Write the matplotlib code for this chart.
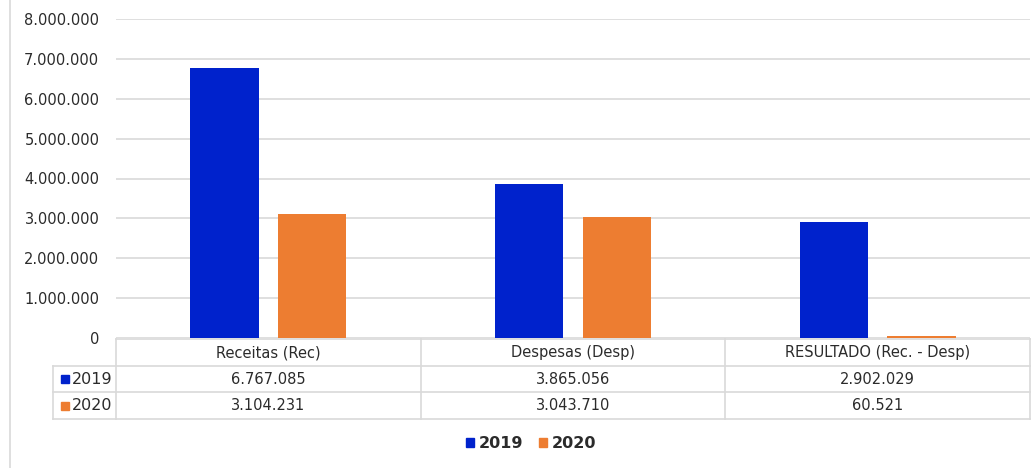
import matplotlib
matplotlib.use("Agg")
import matplotlib.pyplot as plt
import matplotlib.transforms as mtransforms
from matplotlib.lines import Line2D
from matplotlib.patches import Patch, Rectangle
import numpy as np

categories = ["Receitas (Rec)", "Despesas (Desp)", "RESULTADO (Rec. - Desp)"]
series_names = ["2019", "2020"]
values_2019 = [6767085, 3865056, 2902029]
values_2020 = [3104231, 3043710, 60521]
yticks = [0, 1000000, 2000000, 3000000, 4000000, 5000000, 6000000, 7000000, 8000000]

colors = ["#0022CC", "#ED7D31"]
text_color = "#2B2B2B"
grid_color = "#D9D9D9"

W, H = 1035, 468
fig = plt.figure(figsize=(W / 100, H / 100), dpi=100)
plt.rcParams['font.family'] = ['DejaVu Sans']

def fy(y):
    return 1 - y / H

ax_left, ax_right, ax_top, ax_bottom = 116, 1030, 19, 338
ax = fig.add_axes([ax_left / W, fy(ax_bottom), (ax_right - ax_left) / W, (ax_bottom - ax_top) / H])

def fmt(v):
    return f"{int(v):,}".replace(",", ".")

x = np.arange(len(categories))
bw = 0.224
off = 0.144
ax.bar(x - off, values_2019, bw, color=colors[0], zorder=3)
ax.bar(x + off, values_2020, bw, color=colors[1], zorder=3)
ax.set_xlim(-0.5, len(categories) - 0.5)
ax.set_ylim(0, 8000000)
ax.set_yticks(yticks)
ax.set_yticklabels([fmt(v) for v in yticks], fontsize=10.5, color=text_color)
ax.tick_params(axis='y', length=0, pad=12)
ax.set_xticks([])
for s in ax.spines.values():
    s.set_visible(False)
ax.yaxis.grid(True, color=grid_color, linewidth=1.2, zorder=0)
ax.set_axisbelow(True)

# data table
trans = mtransforms.blended_transform_factory(ax.transData, fig.transFigure)
lab_left = 53
row_y = [339, 366, 392, 419]
xl, xr = -0.5, len(categories) - 0.5
lw = 1.2
def hline(y, x0_data, x0_fig=None):
    if x0_fig is not None:
        x0 = ax.transData.inverted().transform(fig.transFigure.transform((x0_fig / W, 0)))[0]
    else:
        x0 = x0_data
    fig.add_artist(Line2D([x0, xr], [fy(y), fy(y)], transform=trans, color=grid_color, lw=lw))

hline(row_y[0], xl)
for y in row_y[1:]:
    hline(y, None, lab_left)
for b in np.arange(len(categories) + 1) - 0.5:
    fig.add_artist(Line2D([b, b], [fy(row_y[0]), fy(row_y[3])], transform=trans, color=grid_color, lw=lw))
fig.add_artist(Line2D([lab_left / W, lab_left / W], [fy(row_y[1]), fy(row_y[3])], transform=fig.transFigure, color=grid_color, lw=lw))

for i, c in enumerate(categories):
    fig.text(i, fy((row_y[0] + row_y[1]) / 2), c, transform=trans, ha='center', va='center', fontsize=10.5, color=text_color)
    fig.text(i, fy((row_y[1] + row_y[2]) / 2), fmt(values_2019[i]), transform=trans, ha='center', va='center', fontsize=10.5, color=text_color)
    fig.text(i, fy((row_y[2] + row_y[3]) / 2), fmt(values_2020[i]), transform=trans, ha='center', va='center', fontsize=10.5, color=text_color)

for k, name in enumerate(series_names):
    yc = (row_y[1 + k] + row_y[2 + k]) / 2
    fig.add_artist(Rectangle((61 / W, fy(yc + 4)), 8 / W, 8 / H, transform=fig.transFigure, color=colors[k]))
    fig.text(72 / W, fy(yc), name, ha='left', va='center', fontsize=11.5, color=text_color)

# left border line
fig.add_artist(Line2D([10 / W, 10 / W], [0, 1], transform=fig.transFigure, color=grid_color, lw=1.2))

handles = [Patch(color=colors[k], label=series_names[k]) for k in range(2)]
fig.legend(handles=handles, loc='center', bbox_to_anchor=(531 / W, fy(444)), ncol=2, frameon=False,
           prop={'size': 11.5, 'weight': 'bold'}, handlelength=0.5, handleheight=0.5,
           handletextpad=0.3, columnspacing=1.0, labelcolor=text_color)

fig.savefig("out.png", dpi=100)
